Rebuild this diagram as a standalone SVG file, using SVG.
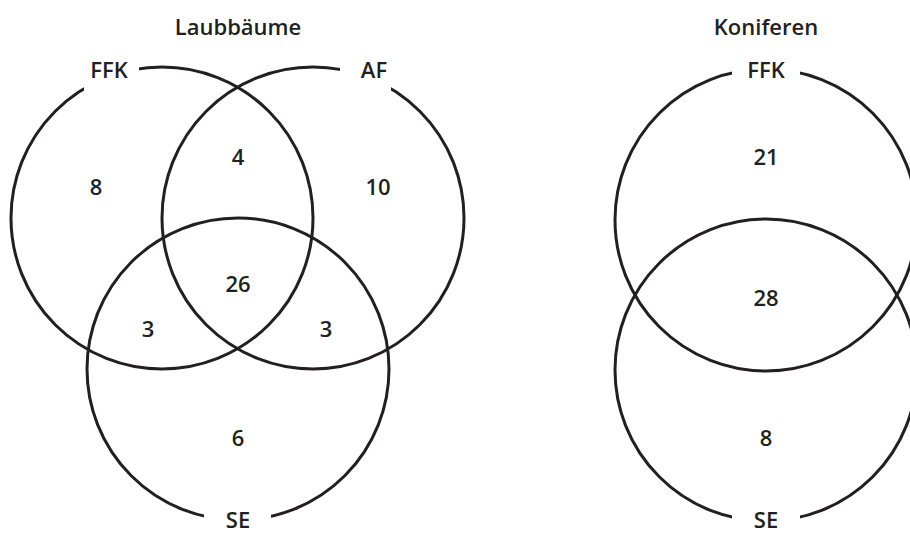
<svg xmlns="http://www.w3.org/2000/svg" width="910" height="533" viewBox="0 0 910 533">
<style>
.c{fill:none;stroke:#231f20;stroke-width:3}
.t{font-family:"Open Sans","DejaVu Sans",sans-serif;font-size:22px;font-weight:600;fill:#231f20;text-anchor:middle}
.g{fill:#fff}
</style>
<rect width="910" height="533" fill="#fff"/>
<g id="connectors">
<circle class="c" cx="162" cy="218" r="151"/>
<circle class="c" cx="313" cy="218" r="151"/>
<circle class="c" cx="238" cy="369" r="151"/>
<circle class="c" cx="766" cy="220" r="151"/>
<circle class="c" cx="766" cy="370" r="151"/>
</g>
<g id="titles">
<text class="t" x="238" y="35">Laubbäume</text>
<text class="t" x="766" y="35">Koniferen</text>
</g>
<g id="set-ffk-l"><rect class="g" x="84" y="50" width="55" height="48"/><text class="t" x="109" y="78">FFK</text></g>
<g id="set-af-l"><rect class="g" x="340" y="50" width="51" height="42"/><text class="t" x="374" y="78">AF</text></g>
<g id="set-se-l"><rect class="g" x="204" y="505" width="67" height="28"/><text class="t" x="238" y="528">SE</text></g>
<g id="set-ffk-r"><rect class="g" x="732" y="50" width="68" height="30"/><text class="t" x="766" y="78">FFK</text></g>
<g id="set-se-r"><rect class="g" x="732" y="505" width="68" height="28"/><text class="t" x="766" y="528">SE</text></g>
<g id="counts">
<text class="t" x="96" y="195">8</text>
<text class="t" x="238" y="165">4</text>
<text class="t" x="378" y="195">10</text>
<text class="t" x="238" y="292">26</text>
<text class="t" x="148" y="337">3</text>
<text class="t" x="326" y="337">3</text>
<text class="t" x="238" y="446">6</text>
<text class="t" x="766" y="165">21</text>
<text class="t" x="766" y="306">28</text>
<text class="t" x="766" y="446">8</text>
</g>
</svg>
